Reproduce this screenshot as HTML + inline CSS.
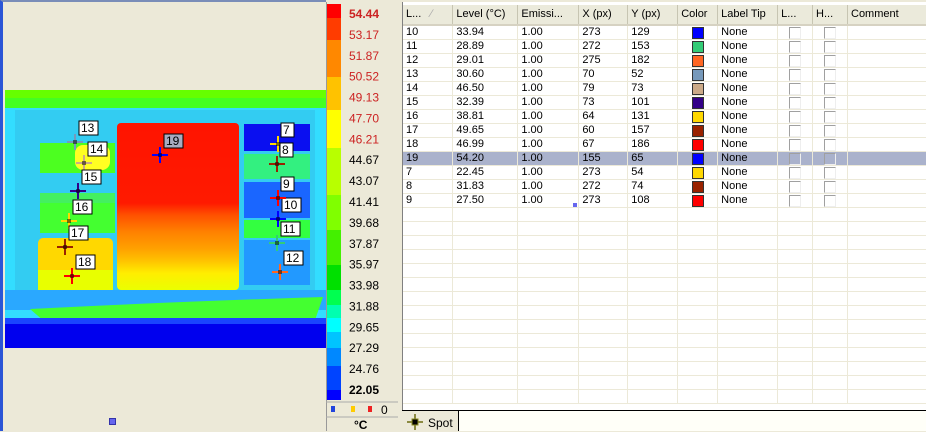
<!DOCTYPE html>
<html><head><meta charset="utf-8">
<style>
html,body{margin:0;padding:0;}
body{width:926px;height:431px;position:relative;overflow:hidden;background:#ece9d8;font-family:"Liberation Sans",Tahoma,sans-serif;font-size:11px;}
.abs{position:absolute;}
#left{left:0;top:0;width:326px;height:431px;background:#ece9d8;border-left:3px solid #2b55d6;box-sizing:border-box;border-top:2px solid #7a8db8;}
#cbar{left:326px;top:2px;width:72px;height:429px;background:#ece9d8;border-left:1px solid #999;}
#gridwrap{left:402px;top:2px;width:524px;height:408px;background:#fff;border-left:1px solid #808080;}
#grid{left:402px;top:5px;width:524px;height:405px;background:#fff;border-left:1px solid #808080;overflow:hidden;}
table{border-collapse:collapse;table-layout:fixed;}
td,th{padding:0 0 0 3px;border-right:1px solid #ece9d8;border-bottom:1px solid #ece9d8;font-weight:normal;text-align:left;white-space:nowrap;overflow:hidden;font-size:11px;}
td{height:13px;line-height:13px;}
th{height:19px;line-height:19px;background:#ebeadb;border-right:1px solid #c7c5b2;border-bottom:2px solid #d6d2c2;color:#000;}
tr.sel td{background:#aab2cc;}
.sw{display:block;width:10px;height:10px;border:1px solid #333;margin:1px 0 0 11px;}
.cb{display:block;width:10px;height:10px;border:1px solid #a0a0a0;border-right-color:#eee;border-bottom-color:#eee;margin:1px 0 0 8px;}
</style></head><body>
<div id="left" class="abs"></div>
<svg class="abs" style="left:5px;top:90px" width="321" height="258">
 <defs>
  <linearGradient id="hot" x1="0" y1="0" x2="0" y2="1">
   <stop offset="0" stop-color="#ff1400"/><stop offset="0.48" stop-color="#ff1a00"/>
   <stop offset="0.55" stop-color="#ff5000"/><stop offset="0.65" stop-color="#ff8000"/>
   <stop offset="0.75" stop-color="#ffa000"/><stop offset="0.82" stop-color="#ffc000"/>
   <stop offset="0.9" stop-color="#ffee00"/><stop offset="1" stop-color="#eaff00"/>
  </linearGradient>
 </defs>
 <rect width="321" height="258" fill="#33ddff"/>
 <rect width="321" height="18" fill="#44ff22"/>
 <rect x="0" y="0" width="321" height="8" fill="#66ff00"/>
 <rect x="10" y="20" width="300" height="200" fill="#33ccf2"/>
 <rect x="35" y="53" width="75" height="30" fill="#4cff20"/>
 <rect x="70" y="55" width="35" height="25" fill="#ffff22" rx="8"/>
 <rect x="35" y="103" width="75" height="30" fill="#44f060"/>
 <rect x="35" y="113" width="75" height="30" fill="#44ff30"/>
 <rect x="33" y="148" width="75" height="52" fill="#ffd800" rx="5"/>
 <rect x="33" y="180" width="75" height="20" fill="#e8ff00"/>
 <rect x="112" y="33" width="122" height="167" fill="url(#hot)" rx="4"/>
 <rect x="239" y="34" width="66" height="27" fill="#0a0ff0"/>
 <rect x="239" y="64" width="66" height="25" fill="#33f080"/>
 <rect x="239" y="92" width="66" height="36" fill="#1a66ff"/>
 <rect x="239" y="130" width="66" height="18" fill="#33ff40"/>
 <rect x="239" y="150" width="66" height="45" fill="#2299ff"/>
 <rect x="0" y="200" width="321" height="20" fill="#2aa8ff"/>
 <path d="M25 219 Q160 212 318 207 L310 230 Q160 238 40 232 Z" fill="#44ff30"/>
 <rect x="0" y="232" width="321" height="26" fill="#0000ee"/>
 <rect x="0" y="228" width="321" height="6" fill="#1a44ff"/>
</svg>
<svg class="abs" style="left:0;top:0" width="326" height="431" id="marks"></svg>
<div class="abs" style="left:109px;top:418px;width:5px;height:5px;background:#6666ee;border:1px solid #3333aa"></div>
<div id="cbar" class="abs"></div>
<svg class="abs" style="left:326px;top:0" width="75" height="431" id="scale"></svg>
<div id="gridwrap" class="abs"></div>
<div id="grid" class="abs">
<table id="tbl">
<colgroup><col style="width:50px"><col style="width:65px"><col style="width:61px"><col style="width:49px"><col style="width:50px"><col style="width:40px"><col style="width:60px"><col style="width:35px"><col style="width:35px"><col style="width:79px"></colgroup>
<thead><tr>
<th>L... &nbsp;&nbsp;<span style="color:#aaa">∕</span></th>
<th>Level (°C)</th>
<th>Emissi...</th>
<th>X (px)</th>
<th>Y (px)</th>
<th>Color</th>
<th>Label Tip</th>
<th>L...</th>
<th>H...</th>
<th>Comment</th>
</tr></thead>
<tbody id="tb"></tbody></table>
</div>
<div class="abs" style="left:573px;top:203px;width:4px;height:4px;background:#6666ee"></div>
<div class="abs" style="left:402px;top:410px;width:524px;height:21px;background:#ece9d8;border-top:1px solid #000"></div>
<div class="abs" style="left:404px;top:412px;width:56px;height:19px;background:#ece9d8">
 <svg width="20" height="19" style="position:absolute;left:2px;top:0"><line x1="1" y1="10" x2="17" y2="10" stroke="#6b6b10" stroke-width="1.5"/><line x1="9" y1="2" x2="9" y2="18" stroke="#6b6b10" stroke-width="1.5"/><rect x="6" y="7" width="6" height="6" fill="#000" stroke="#8a8a20"/></svg>
 <span style="position:absolute;left:24px;top:4px;font-size:12px">Spot</span>
</div>
<div class="abs" style="left:458px;top:411px;width:468px;height:20px;background:#fffff8;border-left:1px solid #000"></div>
<script>
const scaleLabels=["54.44","53.17","51.87","50.52","49.13","47.70","46.21","44.67","43.07","41.41","39.68","37.87","35.97","33.98","31.88","29.65","27.29","24.76","22.05"];
const scaleColors=["#ff0000","#ff3c00","#ff8800","#ffc200","#ffff00","#b8ff00","#80ff00","#44f000","#00e000","#00ff50","#00ffb0","#00ffff","#00c4ff","#0088ff","#0044ff","#0000ff"];
const scaleStops=[4,18,40,77,110,148,195,230,265,290,305,318,332,348,366,390,400];
const spotIds=["10","11","12","13","14","15","16","17","18","19","7","8","9"];
const spotLevels=["33.94","28.89","29.01","30.60","46.50","32.39","38.81","49.65","46.99","54.20","22.45","31.83","27.50"];
const spotX=[273,272,275,70,79,73,64,60,67,155,273,272,273];
const spotY=[129,153,182,52,73,101,131,157,186,65,54,74,108];
const spotColors=["#0000ff","#33cc77","#ff6622","#7799bb","#ccaa88","#330088","#ffd800","#992200","#ff0000","#0000ff","#ffd800","#992200","#ff0000"];
const NS="http://www.w3.org/2000/svg";
const sc=document.getElementById('scale');
for(let i=0;i<scaleColors.length;i++){
 const r=document.createElementNS(NS,'rect');
 r.setAttribute('x',1);r.setAttribute('y',scaleStops[i]);r.setAttribute('width',14);r.setAttribute('height',scaleStops[i+1]-scaleStops[i]);r.setAttribute('fill',scaleColors[i]);
 
 
 sc.appendChild(r);
}
const y0=13,y1=389;
scaleLabels.forEach((l,i)=>{
 const t=document.createElementNS(NS,'text');
 t.setAttribute('x',23);t.setAttribute('y',y0+(y1-y0)*i/(scaleLabels.length-1)+5);
 t.setAttribute('font-size','12');t.setAttribute('font-family','Liberation Sans, sans-serif');
 t.setAttribute('fill',i<7?'#cc2222':'#000');
 if(i===0||i===scaleLabels.length-1)t.setAttribute('font-weight','bold');
 t.textContent=l;
 
 
 sc.appendChild(t);
});
sc.insertAdjacentHTML('beforeend','<line x1="0" y1="402" x2="72" y2="402" stroke="#aaa"/><line x1="0" y1="417" x2="72" y2="417" stroke="#aaa"/><rect x="5" y="406" width="4" height="6" fill="#2244dd"/><rect x="25" y="406" width="4" height="6" fill="#ffcc00"/><rect x="42" y="406" width="4" height="6" fill="#ee2222"/><text x="55" y="414" font-size="12" font-family="Liberation Sans">0</text><text x="28" y="429" font-size="12" font-weight="bold" font-family="Liberation Sans">°C</text>');
const ox=5,oy=90;
const mk=document.getElementById('marks');
const sx=x=>ox+x,sy=y=>oy+y;
spotIds.forEach((id,i)=>{
 const cx=sx(spotX[i]),cy=sy(spotY[i]);
 const g=document.createElementNS(NS,'g');
 
 
 const c=spotColors[i];
 g.innerHTML=`<line x1="${cx-8}" y1="${cy}" x2="${cx+8}" y2="${cy}" stroke="${c}" stroke-width="2"/><line x1="${cx}" y1="${cy-8}" x2="${cx}" y2="${cy+8}" stroke="${c}" stroke-width="2"/><rect x="${cx-2}" y="${cy-2}" width="4" height="4" fill="#000" opacity="0.5"/>`;
 const w=id.length>1?19:13;
 const lx=cx+(id.length>1?4:3),ly=cy-21;
 g.innerHTML+=`<rect x="${lx}" y="${ly}" width="${w}" height="14" fill="${id==='19'?'#a8acc0':'#fff'}" stroke="#000"/><text x="${lx+2}" y="${ly+11}" font-size="12" font-family="Liberation Sans">${id}</text>`;
 mk.appendChild(g);
});
const tb=document.getElementById('tb');
spotIds.forEach((id,i)=>{
 const tr=document.createElement('tr');
 if(id==='19')tr.className='sel';
 
 
 tr.innerHTML=`<td>${id}</td><td>${spotLevels[i]}</td><td>1.00</td><td>${spotX[i]}</td><td>${spotY[i]}</td><td><span class="sw" style="background:${spotColors[i]}"></span></td><td>None</td><td><span class="cb"></span></td><td><span class="cb"></span></td><td></td>`;
 tb.appendChild(tr);
});
for(let j=0;j<14;j++){
 const tr=document.createElement('tr');
 
 
 tr.innerHTML='<td></td><td></td><td></td><td></td><td></td><td></td><td></td><td></td><td></td><td></td>';
 tb.appendChild(tr);
}
</script>
</body></html>
